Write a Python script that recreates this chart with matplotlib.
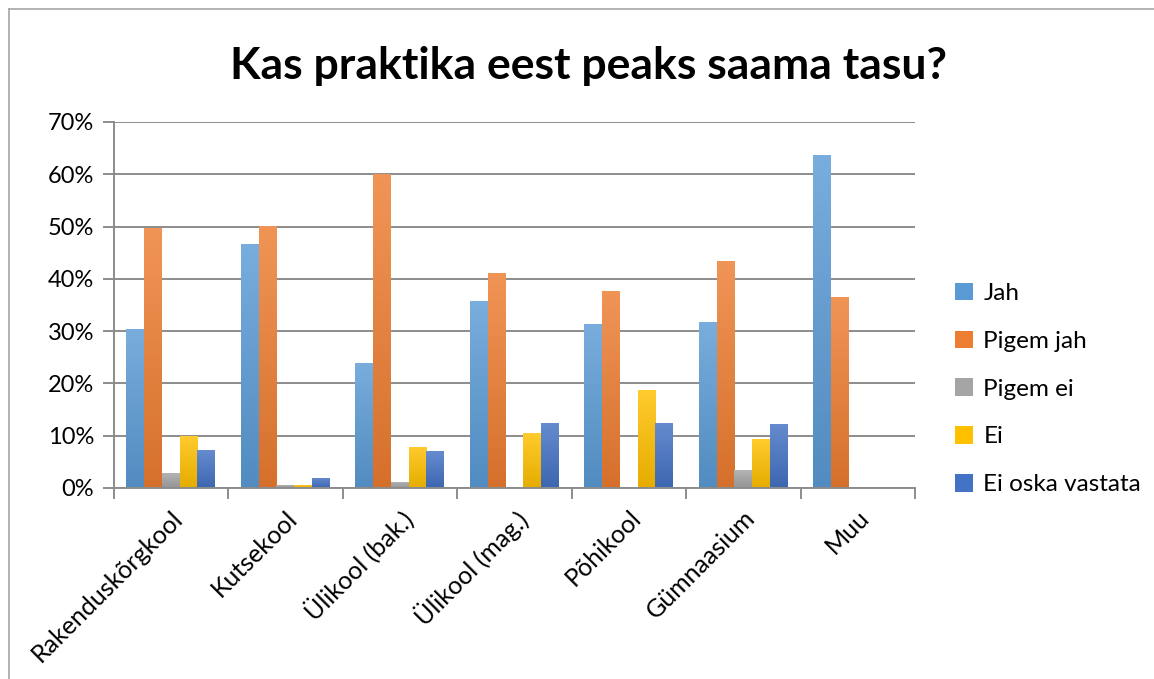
import numpy as np
import matplotlib
matplotlib.use('Agg')
import matplotlib.pyplot as plt
from matplotlib.colors import to_rgb
from matplotlib.lines import Line2D
from matplotlib.patches import Patch
from matplotlib.ticker import FuncFormatter

plt.rcParams['font.family'] = ['Lato', 'DejaVu Sans']

categories = ['Rakenduskõrgkool', 'Kutsekool', 'Ülikool (bak.)', 'Ülikool (mag.)',
              'Põhikool', 'Gümnaasium', 'Muu']
series_names = ['Jah', 'Pigem jah', 'Pigem ei', 'Ei', 'Ei oska vastata']
jah = [30.4, 46.7, 24.0, 35.7, 31.3, 31.7, 63.7]
pigem_jah = [49.7, 50.1, 60.0, 41.1, 37.7, 43.4, 36.5]
pigem_ei = [2.9, 0.6, 1.2, 0.0, 0.0, 3.5, 0.0]
ei = [10.0, 0.6, 7.9, 10.6, 18.7, 9.3, 0.0]
ei_oska = [7.2, 2.0, 7.0, 12.5, 12.5, 12.3, 0.0]
colors = ['#5B9BD5', '#ED7D31', '#A5A5A5', '#FFC000', '#4472C4']

data = [jah, pigem_jah, pigem_ei, ei, ei_oska]

fig = plt.figure(figsize=(11.54, 6.79), dpi=100)
ax = fig.add_axes([113.5 / 1154, 1 - 488 / 679, (915 - 113.5) / 1154, (488 - 122) / 679])

x = np.arange(len(categories))
w = 0.155
offsets = (np.arange(len(series_names)) - 2) * w


def shade(c, f):
    # f > 0 lightens towards white, f < 0 darkens
    c = np.array(to_rgb(c))
    if f > 0:
        return c + (1 - c) * f
    return c * (1 + f)


for vals, name, col, off in zip(data, series_names, colors, offsets):
    bars = ax.bar(x + off, vals, w, color=col, label=name, zorder=3)
    # gradient fill like Excel: lighter top, darker bottom
    grad = np.linspace(0, 1, 64)[:, None]
    top, bot = shade(col, 0.18), shade(col, -0.1)
    img = (bot[None, None, :] * (1 - grad[..., None]) + top[None, None, :] * grad[..., None])
    for b in bars:
        h = b.get_height()
        if h <= 0:
            continue
        x0 = b.get_x()
        im = ax.imshow(img, extent=[x0, x0 + b.get_width(), 0, h], origin='lower',
                       aspect='auto', zorder=4, interpolation='bilinear')
        im.set_clip_path(b)

ax.set_xlim(-0.5, len(categories) - 0.5)
ax.set_ylim(0, 70)
ax.set_yticks(np.arange(0, 71, 10))
ax.yaxis.set_major_formatter(FuncFormatter(lambda v, p: f'{v:.0f}%'))
ax.grid(axis='y', color='#8C8C8C', linewidth=1.4, zorder=0)
ax.tick_params(axis='y', length=8, width=1.4, color='#8C8C8C', labelsize=17, pad=6)

ax.set_xticks(x)
ax.set_xticklabels(categories, rotation=45, ha='right', va='top', rotation_mode='anchor',
                   fontsize=18)
ax.tick_params(axis='x', which='major', length=0, pad=13)
ax.set_xticks(np.arange(-0.5, len(categories), 1), minor=True)
ax.tick_params(axis='x', which='minor', length=8, width=1.4, color='#8C8C8C')

for s in ['top', 'right']:
    ax.spines[s].set_visible(False)
for s in ['left', 'bottom']:
    ax.spines[s].set_color('#8C8C8C')
    ax.spines[s].set_linewidth(1.4)
    ax.spines[s].set_zorder(5)

handles = [Patch(facecolor=c, label=n) for c, n in zip(colors, series_names)]
fig.legend(handles=handles, loc='center left', bbox_to_anchor=(955 / 1154, 1 - 389 / 679),
           frameon=False, fontsize=17.5, handlelength=0.72, handleheight=0.72,
           handletextpad=0.45, labelspacing=1.1, borderpad=0, borderaxespad=0)

fig.text(0.51, 1 - 66 / 679, 'Kas praktika eest peaks saama tasu?', ha='center', va='center',
         fontsize=32, fontweight='bold')

# chart border (left and top edges visible)
fig.add_artist(Line2D([9 / 1154, 9 / 1154], [0, 1 - 9 / 679], color='#A6A6A6', lw=1.2))
fig.add_artist(Line2D([9 / 1154, 1], [1 - 9 / 679, 1 - 9 / 679], color='#A6A6A6', lw=1.2))

fig.savefig('out.png', dpi=100)
